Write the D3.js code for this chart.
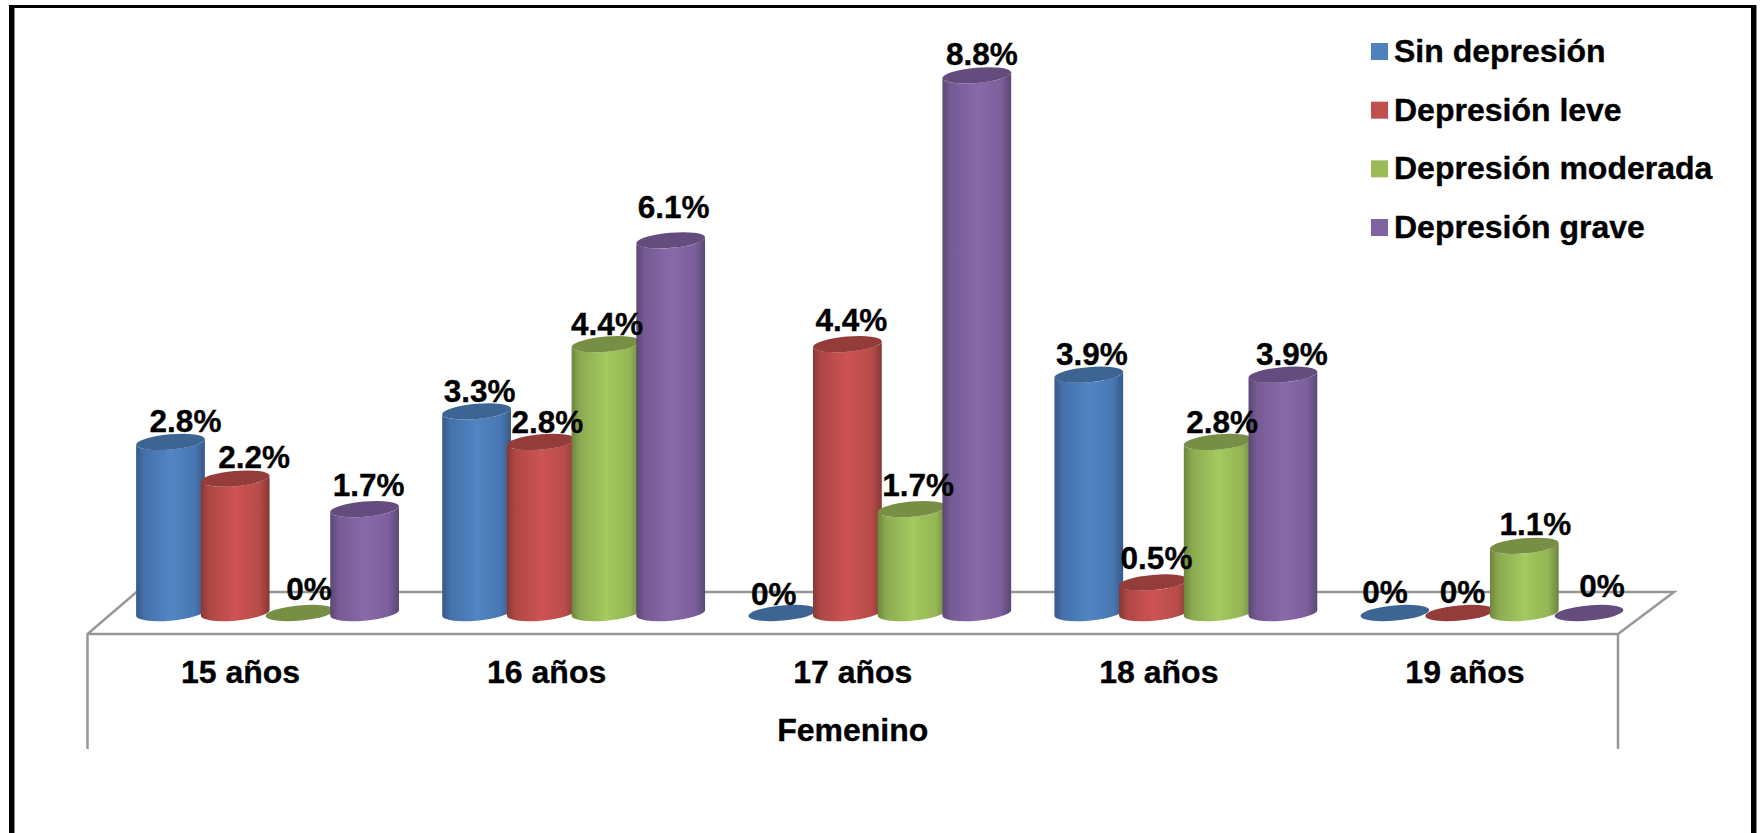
<!DOCTYPE html>
<html lang="es">
<head>
<meta charset="utf-8">
<title>Depresión por edad, sexo femenino</title>
<script src="https://cdn.jsdelivr.net/npm/d3@7/dist/d3.min.js"></script>
<style>
  html, body { margin: 0; padding: 0; background: #fff; }
  svg { display: block; }
  text { font-family: "Liberation Sans", Arial, sans-serif; font-weight: 700; fill: #000; stroke: #000; stroke-width: 0.35px; }
</style>
</head>
<body>
<svg id="chart" width="1760" height="833"></svg>
<script>
const categories = ["15 años", "16 años", "17 años", "18 años", "19 años"];
const seriesNames = ["Sin depresión", "Depresión leve", "Depresión moderada", "Depresión grave"];
const sinDepresion = [2.8, 3.3, 0, 3.9, 0];
const depresionLeve = [2.2, 2.8, 4.4, 0.5, 0];
const depresionModerada = [0, 4.4, 1.7, 2.8, 1.1];
const depresionGrave = [1.7, 6.1, 8.8, 3.9, 0];
const axisTitle = "Femenino";

// Hand placement of each value label relative to the top of its cylinder: [dx, dy]
const labelNudge = [
  [[15, -10], [3, -9], [-9, -8], [3, -10], [-10, -10]],
  [[19, -11], [6, -9], [4, -13], [3, -13], [3, -10]],
  [[9, -13], [1, -9], [6, -13], [4, -9], [11, -11]],
  [[4, -13], [3, -22], [5, -10], [9, -10], [13, -16]]
];

const palette = [
  { light: "#5185c4", edge: "#36598a", top: "#3d6594", key: "#4f81bd" },
  { light: "#cd5452", edge: "#883835", top: "#933c3a", key: "#c0504d" },
  { light: "#a4c95e", edge: "#6c853e", top: "#778f45", key: "#9bbb59" },
  { light: "#8a69ab", edge: "#5b4775", top: "#644d7e", key: "#8064a2" }
];

const allSeries = [sinDepresion, depresionLeve, depresionModerada, depresionGrave];
const svg = d3.select("#chart");

// Floor of the 3D plot: front edge, back edge and side walls
const floor = { left: 87.5, right: 1618, front: 634, back: 592, depth: 49, drop: 749 };

const x0 = d3.scaleBand().domain(categories).range([floor.left, floor.right]);
const x1 = d3.scaleBand().domain(d3.range(seriesNames.length))
  .range([-129.4, 129.4]);
const depthShift = 27;
const y = d3.scaleLinear().domain([0, 10]).range([613, 2]);

const barCenter = (catIdx, serIdx) =>
  x0(categories[catIdx]) + x0.bandwidth() / 2 + depthShift + x1(serIdx) + x1.bandwidth() / 2;

// Outer frame: open at the bottom, with a faint grey edge beside the heavy strokes
const frame = svg.append("g");
frame.append("rect").attr("x", 9).attr("y", 5).attr("width", 1747).attr("height", 3).attr("fill", "#000");
frame.append("rect").attr("x", 9).attr("y", 5).attr("width", 5).attr("height", 828).attr("fill", "#000");
frame.append("rect").attr("x", 14).attr("y", 8).attr("width", 1).attr("height", 825).attr("fill", "#8a8a8a");
frame.append("rect").attr("x", 1751).attr("y", 5).attr("width", 5).attr("height", 828).attr("fill", "#000");
frame.append("rect").attr("x", 1756).attr("y", 5).attr("width", 1).attr("height", 828).attr("fill", "#8a8a8a");

// Plot floor
svg.append("path")
  .attr("fill", "none").attr("stroke", "#979797").attr("stroke-width", 2.5)
  .attr("d", d3.line()([
    [floor.left, floor.drop], [floor.left, floor.front],
    [floor.left + floor.depth, floor.back],
    [floor.right + 56, floor.back],
    [floor.right, floor.front], [floor.left, floor.front]
  ]));
svg.append("line")
  .attr("x1", floor.right).attr("x2", floor.right)
  .attr("y1", floor.front).attr("y2", floor.drop)
  .attr("stroke", "#979797").attr("stroke-width", 2.5);

// One horizontal gradient per series for the cylinder shading
const defs = svg.append("defs");
palette.forEach((c, i) => {
  const g = defs.append("linearGradient").attr("id", "cyl" + i)
    .attr("x1", 0).attr("x2", 1).attr("y1", 0).attr("y2", 0);
  [[0, c.edge], [0.12, d3.interpolateRgb(c.edge, c.light)(0.55)], [0.5, c.light],
   [0.85, d3.interpolateRgb(c.edge, c.light)(0.7)], [1, c.edge]]
    .forEach(([o, col]) => g.append("stop").attr("offset", o).attr("stop-color", col));
});

// Cylinder cap geometry: a slightly rotated ellipse
const rx = 34.5, ry = 7.6, tilt = -5;
const phi = tilt * Math.PI / 180;
const extentX = Math.sqrt(rx * rx * Math.cos(phi) ** 2 + ry * ry * Math.sin(phi) ** 2);
const extentY = (rx * rx - ry * ry) * Math.sin(phi) * Math.cos(phi) / extentX;

const rows = [];
allSeries.forEach((values, s) => values.forEach((v, c) => rows.push({ s, c, v })));

const bars = svg.append("g").selectAll("g")
  .data(rows)
  .join("g")
  .attr("transform", d => `translate(${barCenter(d.c, d.s)},0)`);

bars.filter(d => d.v > 0).append("path")
  .attr("fill", d => `url(#cyl${d.s})`)
  .attr("d", d => {
    const base = y(0), top = y(d.v);
    return `M${-extentX},${top - extentY}` +
      `L${-extentX},${base - extentY}` +
      `A${rx},${ry} ${tilt} 0 0 ${extentX},${base + extentY}` +
      `L${extentX},${top + extentY}` +
      `A${rx},${ry} ${tilt} 0 1 ${-extentX},${top - extentY}Z`;
  });

bars.append("ellipse")
  .attr("rx", rx).attr("ry", ry)
  .attr("fill", d => palette[d.s].top)
  .attr("transform", d => `translate(0,${y(d.v)}) rotate(${tilt})`);

// Value labels
svg.append("g").selectAll("text")
  .data(rows)
  .join("text")
  .attr("text-anchor", "middle")
  .attr("font-size", 31.5)
  .attr("x", d => barCenter(d.c, d.s) + labelNudge[d.s][d.c][0])
  .attr("y", d => y(d.v) + labelNudge[d.s][d.c][1])
  .text(d => d3.format("")(d.v) + "%");

// Category labels and axis title
svg.append("g").selectAll("text")
  .data(categories)
  .join("text")
  .attr("text-anchor", "middle")
  .attr("font-size", 32)
  .attr("x", d => x0(d) + x0.bandwidth() / 2)
  .attr("y", 683)
  .text(d => d);

svg.append("text")
  .attr("text-anchor", "middle")
  .attr("font-size", 32)
  .attr("x", (floor.left + floor.right) / 2)
  .attr("y", 741)
  .text(axisTitle);

// Legend
const legendY = d3.scalePoint().domain(seriesNames).range([43, 219]);
const legend = svg.append("g").selectAll("g")
  .data(seriesNames)
  .join("g")
  .attr("transform", d => `translate(1371,${legendY(d)})`);
legend.append("rect")
  .attr("width", 17).attr("height", 17)
  .attr("fill", (d, i) => palette[i].key);
legend.append("text")
  .attr("x", 23).attr("y", 19)
  .attr("font-size", 32)
  .text(d => d);
</script>
</body>
</html>
